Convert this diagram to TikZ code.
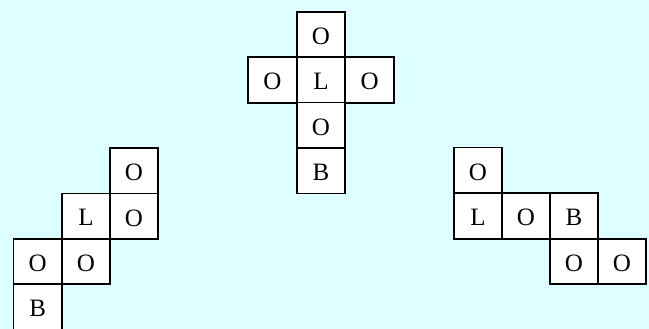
\documentclass[tikz,border=0pt]{standalone}
\usepackage{fontspec}
\setmainfont{Liberation Serif}
\definecolor{bgcyan}{RGB}{221,255,255}
\tikzset{
  cell/.style={draw=black, fill=white, line width=1.8pt, minimum width=48.3pt, minimum height=45.5pt, inner sep=0pt, font=\fontsize{25}{27}\selectfont, text depth=0pt}
}
\newcommand{\lt}[1]{\raisebox{-3pt}{#1}}
\begin{document}
\begin{tikzpicture}[x=1pt,y=-1pt]
\fill[bgcyan] (0,0) rectangle (649,329);
\useasboundingbox (0,0) rectangle (649,329);
% center cross
\node[cell] (c1) at (321,34.7) {\lt{O}};
\node[cell] (c2) at (272.4,80) {\lt{O}};
\node[cell] (c3) at (321,80) {\lt{L}};
\node[cell] (c4) at (369.6,80) {\lt{O}};
\node[cell] (c5) at (321,125.3) {\lt{O}};
\node[cell] (c6) at (321,170.7) {\lt{B}};
% left shape
\node[cell] (l1) at (134,170.7) {\lt{O}};
\node[cell] (l2) at (86,216.3) {\lt{L}};
\node[cell] (l3) at (134,216.3) {\lt{O}};
\node[cell] (l4) at (37.7,261.4) {\lt{O}};
\node[cell] (l5) at (86,261.4) {\lt{O}};
\node[cell] (l6) at (37.7,306.8) {\lt{B}};
% right shape
\node[cell] (r1) at (478,170.3) {\lt{O}};
\node[cell] (r2) at (478,216) {\lt{L}};
\node[cell] (r3) at (526,216) {\lt{O}};
\node[cell] (r4) at (574,216) {\lt{B}};
\node[cell] (r5) at (574,261.4) {\lt{O}};
\node[cell] (r6) at (622,261.4) {\lt{O}};
\end{tikzpicture}
\end{document}
